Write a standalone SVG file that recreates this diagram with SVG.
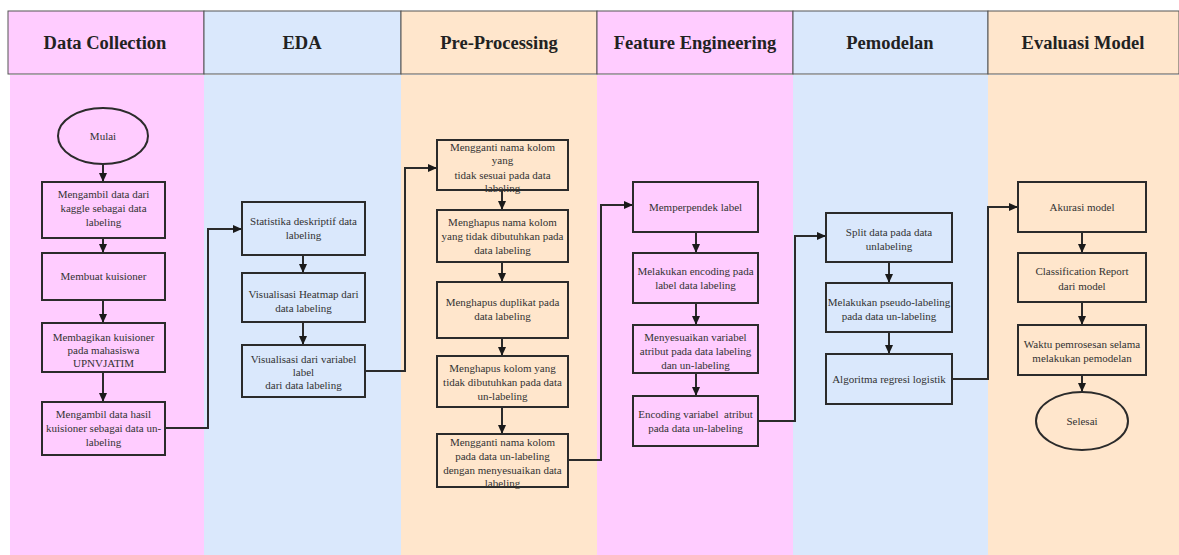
<svg xmlns="http://www.w3.org/2000/svg" width="1179" height="555" viewBox="0 0 1179 555">
<defs>
<marker id="ah" markerWidth="10" markerHeight="10" refX="8" refY="5" orient="auto" markerUnits="userSpaceOnUse">
<path d="M0,1 L9,5 L0,9 Z" fill="#1a1a1a"/>
</marker>
<style>
.pink{fill:#FFCCFF}.blue{fill:#DAE8FC}.orange{fill:#FFE6CC}
.hd{stroke:#555;stroke-width:1}
.ht{font-family:"Liberation Serif","Times New Roman",Tinos,"DejaVu Serif",serif;font-weight:bold;font-size:18.5px;fill:#222;text-anchor:middle}
.bx{fill:none;stroke:#2b2b2b;stroke-width:2}
.t{font-family:"Liberation Serif","Times New Roman",Tinos,"DejaVu Serif",serif;font-size:11px;fill:#333;text-anchor:middle}
.c{fill:none;stroke:#2b2b2b;stroke-width:2;marker-end:url(#ah)}
</style>
</defs>
<rect width="1179" height="555" fill="#fff"/>
<g id="lanes">
<rect class="pink" x="10" y="75" width="194" height="480"/>
<rect class="blue" x="204" y="75" width="197" height="480"/>
<rect class="orange" x="401" y="75" width="196" height="480"/>
<rect class="pink" x="597" y="75" width="196" height="480"/>
<rect class="blue" x="793" y="75" width="195" height="480"/>
<rect class="orange" x="988" y="75" width="191" height="480"/>
</g>
<g id="headers">
<rect class="pink hd" x="8" y="11" width="196" height="63"/>
<rect class="blue hd" x="204" y="11" width="197" height="63"/>
<rect class="orange hd" x="401" y="11" width="196" height="63"/>
<rect class="pink hd" x="597" y="11" width="196" height="63"/>
<rect class="blue hd" x="793" y="11" width="195" height="63"/>
<rect class="orange hd" x="988" y="11" width="191" height="63"/>
<text class="ht" x="105" y="49">Data Collection</text>
<text class="ht" x="302" y="49">EDA</text>
<text class="ht" x="499" y="49">Pre-Processing</text>
<text class="ht" x="695" y="49">Feature Engineering</text>
<text class="ht" x="890" y="49">Pemodelan</text>
<text class="ht" x="1083" y="49">Evaluasi Model</text>
</g>
<g id="connectors">
<line class="c" x1="103" y1="164" x2="103" y2="181"/>
<line class="c" x1="103" y1="238" x2="103" y2="252"/>
<line class="c" x1="103" y1="300" x2="103" y2="322"/>
<line class="c" x1="103" y1="372" x2="103" y2="401"/>
<polyline class="c" points="165,428 208,428 208,229 241,229"/>
<line class="c" x1="303" y1="255" x2="303" y2="272"/>
<line class="c" x1="303" y1="322" x2="303" y2="344"/>
<polyline class="c" points="365,371 405,371 405,168 436,168"/>
<line class="c" x1="502" y1="190" x2="502" y2="209"/>
<line class="c" x1="502" y1="262" x2="502" y2="281"/>
<line class="c" x1="502" y1="338" x2="502" y2="355"/>
<line class="c" x1="502" y1="407" x2="502" y2="433"/>
<polyline class="c" points="568,460 601,460 601,205 632,205"/>
<line class="c" x1="696" y1="232" x2="696" y2="252"/>
<line class="c" x1="696" y1="303" x2="696" y2="324"/>
<line class="c" x1="696" y1="373" x2="696" y2="395"/>
<polyline class="c" points="758,421 795,421 795,236 825,236"/>
<line class="c" x1="889" y1="262" x2="889" y2="282"/>
<line class="c" x1="889" y1="332" x2="889" y2="353"/>
<polyline class="c" points="952,379 988,379 988,207 1017,207"/>
<line class="c" x1="1082" y1="232" x2="1082" y2="252"/>
<line class="c" x1="1082" y1="302" x2="1082" y2="324"/>
<line class="c" x1="1082" y1="375" x2="1082" y2="391"/>
</g>
<g id="mulai"><ellipse class="bx" cx="103" cy="136" rx="45" ry="28"/><text class="t" x="103" y="140">Mulai</text></g>
<g id="dc1"><rect class="bx" x="42" y="182" width="123" height="56"/><text class="t" x="103.5" y="198">Mengambil data dari</text><text class="t" x="103.5" y="212">kaggle sebagai data</text><text class="t" x="103.5" y="226">labeling</text></g>
<g id="dc2"><rect class="bx" x="42" y="253" width="123" height="47"/><text class="t" x="103.5" y="280">Membuat kuisioner</text></g>
<g id="dc3"><rect class="bx" x="42" y="323" width="123" height="49"/><text class="t" x="103.5" y="341">Membagikan kuisioner</text><text class="t" x="103.5" y="354">pada mahasiswa</text><text class="t" x="103.5" y="367">UPNVJATIM</text></g>
<g id="dc4"><rect class="bx" x="42" y="402" width="123" height="53"/><text class="t" x="103.5" y="418">Mengambil data hasil</text><text class="t" x="103.5" y="432">kuisioner sebagai data un-</text><text class="t" x="103.5" y="446">labeling</text></g>
<g id="eda1"><rect class="bx" x="242" y="202" width="123" height="53"/><text class="t" x="303.5" y="225">Statistika deskriptif data</text><text class="t" x="303.5" y="239">labeling</text></g>
<g id="eda2"><rect class="bx" x="242" y="273" width="123" height="49"/><text class="t" x="303.5" y="298">Visualisasi Heatmap dari</text><text class="t" x="303.5" y="312">data labeling</text></g>
<g id="eda3"><rect class="bx" x="242" y="345" width="123" height="52"/><text class="t" x="303.5" y="363">Visualisasi dari variabel</text><text class="t" x="303.5" y="376">label</text><text class="t" x="303.5" y="389">dari data labeling</text></g>
<g id="pp1"><rect class="bx" x="437" y="140" width="131" height="50"/><text class="t" x="502.5" y="151">Mengganti nama kolom</text><text class="t" x="502.5" y="164">yang</text><text class="t" x="502.5" y="179">tidak sesuai pada data</text><text class="t" x="502.5" y="192">labeling</text></g>
<g id="pp2"><rect class="bx" x="437" y="210" width="131" height="52"/><text class="t" x="502.5" y="226">Menghapus nama kolom</text><text class="t" x="502.5" y="240">yang tidak dibutuhkan pada</text><text class="t" x="502.5" y="254">data labeling</text></g>
<g id="pp3"><rect class="bx" x="437" y="282" width="131" height="56"/><text class="t" x="502.5" y="306">Menghapus duplikat pada</text><text class="t" x="502.5" y="320">data labeling</text></g>
<g id="pp4"><rect class="bx" x="437" y="356" width="131" height="51"/><text class="t" x="502.5" y="372">Menghapus kolom yang</text><text class="t" x="502.5" y="386">tidak dibutuhkan pada data</text><text class="t" x="502.5" y="400">un-labeling</text></g>
<g id="pp5"><rect class="bx" x="437" y="434" width="131" height="53"/><text class="t" x="502.5" y="446">Mengganti nama kolom</text><text class="t" x="502.5" y="460">pada data un-labeling</text><text class="t" x="502.5" y="474">dengan menyesuaikan data</text><text class="t" x="502.5" y="487">labeling</text></g>
<g id="fe1"><rect class="bx" x="633" y="182" width="125" height="50"/><text class="t" x="695.5" y="211">Memperpendek label</text></g>
<g id="fe2"><rect class="bx" x="633" y="253" width="125" height="50"/><text class="t" x="695.5" y="275">Melakukan encoding pada</text><text class="t" x="695.5" y="289">label data labeling</text></g>
<g id="fe3"><rect class="bx" x="633" y="325" width="125" height="48"/><text class="t" x="695.5" y="341">Menyesuaikan variabel</text><text class="t" x="695.5" y="355">atribut pada data labeling</text><text class="t" x="695.5" y="369">dan un-labeling</text></g>
<g id="fe4"><rect class="bx" x="633" y="396" width="125" height="50"/><text class="t" x="695.5" y="418" xml:space="preserve">Encoding variabel  atribut</text><text class="t" x="695.5" y="432">pada data un-labeling</text></g>
<g id="pm1"><rect class="bx" x="826" y="213" width="126" height="49"/><text class="t" x="889" y="236">Split data pada data</text><text class="t" x="889" y="250">unlabeling</text></g>
<g id="pm2"><rect class="bx" x="826" y="283" width="126" height="49"/><text class="t" x="889" y="306">Melakukan pseudo-labeling</text><text class="t" x="889" y="320">pada data un-labeling</text></g>
<g id="pm3"><rect class="bx" x="826" y="354" width="126" height="50"/><text class="t" x="889" y="383">Algoritma regresi logistik</text></g>
<g id="ev1"><rect class="bx" x="1018" y="182" width="128" height="50"/><text class="t" x="1082" y="211">Akurasi model</text></g>
<g id="ev2"><rect class="bx" x="1018" y="253" width="128" height="49"/><text class="t" x="1082" y="275">Classification Report</text><text class="t" x="1082" y="290">dari model</text></g>
<g id="ev3"><rect class="bx" x="1018" y="325" width="128" height="50"/><text class="t" x="1082" y="348">Waktu pemrosesan selama</text><text class="t" x="1082" y="362">melakukan pemodelan</text></g>
<g id="selesai"><ellipse class="bx" cx="1082" cy="421" rx="46" ry="29"/><text class="t" x="1082" y="425">Selesai</text></g>
</svg>
